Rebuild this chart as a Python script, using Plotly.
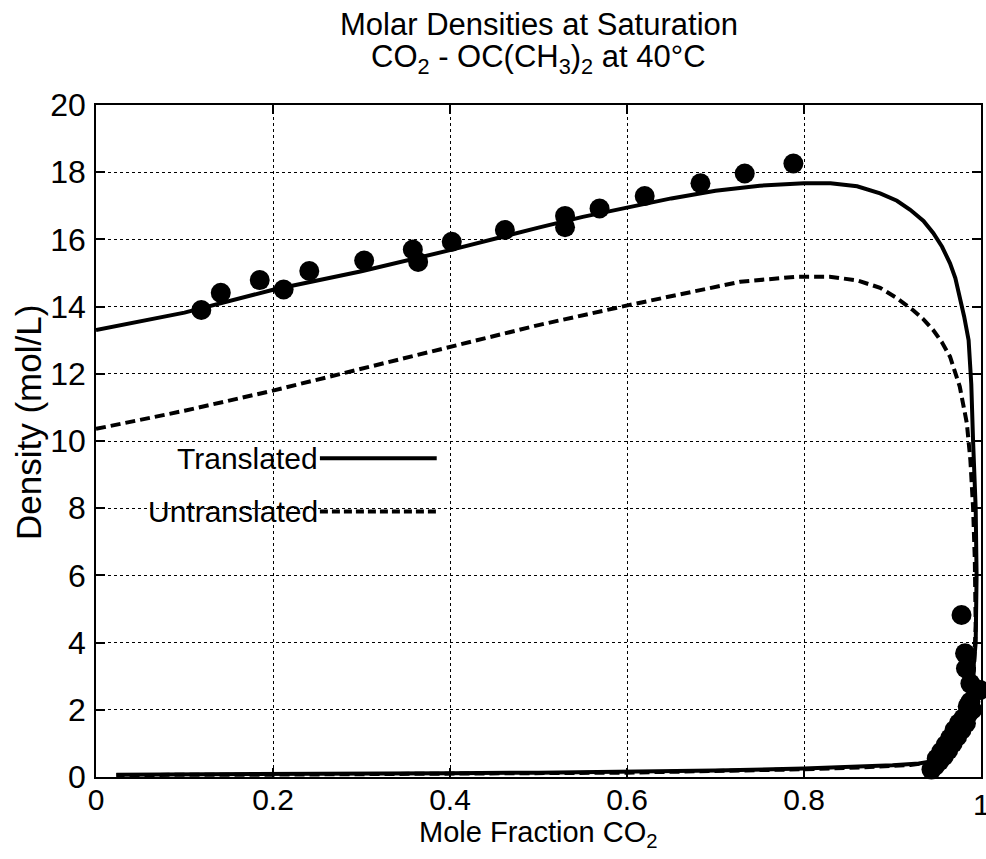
import plotly.graph_objects as go

# ---------------- data ----------------
# Translated model curve: liquid branch (x from 0 to critical) then vapour branch back to low x
trans_x = [0.0, 0.1, 0.2, 0.3, 0.4, 0.45, 0.5, 0.55, 0.6, 0.65, 0.7, 0.75, 0.8, 0.83, 0.86,
           0.886, 0.905, 0.92, 0.935, 0.946, 0.956, 0.965, 0.971, 0.976, 0.981, 0.986,
           0.989, 0.991, 0.994, 0.995, 0.994,
           0.99, 0.985, 0.978, 0.97, 0.96, 0.95, 0.94, 0.93, 0.9, 0.85, 0.8, 0.7, 0.6,
           0.5, 0.4, 0.3, 0.2, 0.1, 0.023]
trans_y = [13.3, 13.82, 14.5, 15.05, 15.68, 16.03, 16.35, 16.67, 16.96, 17.22, 17.45, 17.6,
           17.67, 17.67, 17.58, 17.37, 17.15, 16.88, 16.55, 16.19, 15.78, 15.29, 14.85,
           14.29, 13.7, 13.0, 11.7, 10.03, 8.0, 6.0, 4.0,
           2.8, 2.2, 1.7, 1.3, 0.9, 0.6, 0.45, 0.4, 0.35, 0.29, 0.25, 0.19, 0.15,
           0.13, 0.11, 0.1, 0.09, 0.08, 0.07]

# Untranslated model curve
untr_x = [0.0, 0.1, 0.2, 0.3, 0.4, 0.434, 0.5, 0.603, 0.65, 0.728, 0.792, 0.829, 0.86,
          0.886, 0.905, 0.923, 0.935, 0.946, 0.956, 0.965, 0.976, 0.984, 0.988, 0.991,
          0.993, 0.994, 0.992,
          0.99, 0.98, 0.97, 0.96, 0.95, 0.94, 0.92, 0.85, 0.8, 0.6, 0.4, 0.2, 0.023]
untr_y = [10.36, 10.9, 11.5, 12.15, 12.8, 13.05, 13.45, 14.05, 14.3, 14.74, 14.89, 14.89,
          14.78, 14.56, 14.25, 13.9, 13.62, 13.3, 12.93, 12.51, 11.62, 10.53, 9.43, 8.04,
          6.46, 4.5, 3.2,
          2.5, 1.7, 1.2, 0.85, 0.55, 0.42, 0.36, 0.27, 0.23, 0.13, 0.09, 0.07, 0.06]

# Experimental liquid-phase (bubble) densities
liq_x = [0.119, 0.141, 0.185, 0.212, 0.241, 0.303, 0.358, 0.364, 0.402, 0.462, 0.530,
         0.530, 0.569, 0.620, 0.683, 0.733, 0.788]
liq_y = [13.90, 14.41, 14.79, 14.51, 15.06, 15.37, 15.70, 15.33, 15.93, 16.28, 16.70,
         16.36, 16.92, 17.29, 17.67, 17.96, 18.26]

# Experimental vapour-phase (dew) densities
vap_x = [0.978, 0.982, 0.983, 0.988, 0.999, 0.988, 0.986, 0.983, 0.978, 0.975, 0.973,
         0.970, 0.968, 0.965, 0.963, 0.960, 0.958, 0.955, 0.953, 0.950, 0.948, 0.944,
         0.990, 0.985, 0.980]
vap_y = [4.82, 3.68, 3.23, 2.78, 2.59, 2.24, 1.89, 1.60, 1.40, 1.60, 1.20, 1.40, 1.00,
         1.15, 0.80, 0.95, 0.62, 0.75, 0.47, 0.55, 0.33, 0.22, 2.00, 2.10, 1.75]

# Tick values / labels
x_tickvals = [0, 0.2, 0.4, 0.6, 0.8, 1]
x_ticktext = ["0", "0.2", "0.4", "0.6", "0.8", "1"]
y_tickvals = [0, 2, 4, 6, 8, 10, 12, 14, 16, 18, 20]
y_ticktext = [str(v) for v in y_tickvals]

# In-plot legend samples
leg_labels = ["Translated", "Untranslated"]
leg_x = [0.253, 0.385]
leg_y = [9.49, 7.9]

title_lines = ["Molar Densities at Saturation",
               "CO<sub>2</sub> - OC(CH<sub>3</sub>)<sub>2</sub> at 40°C"]
x_title = "Mole Fraction CO<sub>2</sub>"
y_title = "Density (mol/L)"

FONT = "Liberation Sans, Arial, Helvetica, sans-serif"

fig = go.Figure()

fig.add_trace(go.Scatter(x=untr_x, y=untr_y, mode="lines",
                         line=dict(color="black", width=4, dash="10px,5px"),
                         showlegend=False, hoverinfo="skip"))
fig.add_trace(go.Scatter(x=trans_x, y=trans_y, mode="lines",
                         line=dict(color="black", width=4),
                         showlegend=False, hoverinfo="skip"))
fig.add_trace(go.Scatter(x=liq_x, y=liq_y, mode="markers",
                         marker=dict(color="black", size=20),
                         showlegend=False))
fig.add_trace(go.Scatter(x=vap_x, y=vap_y, mode="markers",
                         marker=dict(color="black", size=20),
                         showlegend=False, cliponaxis=False))

# legend sample lines
fig.add_trace(go.Scatter(x=leg_x, y=[leg_y[0], leg_y[0]], mode="lines",
                         line=dict(color="black", width=4),
                         showlegend=False, hoverinfo="skip"))
fig.add_trace(go.Scatter(x=leg_x, y=[leg_y[1], leg_y[1]], mode="lines",
                         line=dict(color="black", width=4, dash="8px,4px"),
                         showlegend=False, hoverinfo="skip"))

for lab, yy in zip(leg_labels, leg_y):
    fig.add_annotation(x=leg_x[0], y=yy, text=lab, showarrow=False,
                       xanchor="right", yanchor="middle",
                       font=dict(family=FONT, size=30, color="black"))

# last x tick label sits on the page edge (partly cut, as in the original)
fig.add_annotation(x=x_tickvals[-1], y=-0.013, xref="x", yref="paper",
                   text=x_ticktext[-1], showarrow=False, xanchor="center",
                   yanchor="top", font=dict(family=FONT, size=30, color="black"))

# title (two lines) and axis titles as annotations for exact placement
fig.add_annotation(x=0.5, y=1.1205, xref="paper", yref="paper", text=title_lines[0],
                   showarrow=False, xanchor="center", yanchor="middle",
                   font=dict(family=FONT, size=31, color="black"))
fig.add_annotation(x=0.5, y=1.069, xref="paper", yref="paper", text=title_lines[1],
                   showarrow=False, xanchor="center", yanchor="middle",
                   font=dict(family=FONT, size=31, color="black"))
fig.add_annotation(x=0.5, y=-0.085, xref="paper", yref="paper", text=x_title,
                   showarrow=False, xanchor="center", yanchor="middle",
                   font=dict(family=FONT, size=29, color="black"))
fig.add_annotation(x=-0.077, y=0.528, xref="paper", yref="paper", text=y_title,
                   showarrow=False, xanchor="center", yanchor="middle", textangle=-90,
                   font=dict(family=FONT, size=35, color="black"))

axis_common = dict(showgrid=True, gridcolor="black", gridwidth=1, griddash="dot",
                   showline=True, linecolor="black", linewidth=1.5, mirror="ticks",
                   ticks="inside", ticklen=9, tickwidth=1.5, tickcolor="black",
                   zeroline=False)

fig.update_xaxes(range=[0, 1], tickmode="array", tickvals=x_tickvals, ticktext=x_ticktext,
                 ticklabelstandoff=-5,
                 tickfont=dict(family=FONT, size=30, color="black"), **axis_common)
fig.update_yaxes(range=[0, 20], tickmode="array", tickvals=y_tickvals, ticktext=y_ticktext,
                 ticklabelstandoff=2,
                 tickfont=dict(family=FONT, size=32, color="black"), **axis_common)

fig.update_layout(
    width=986, height=859,
    margin=dict(l=96, r=3, t=105, b=82),
    paper_bgcolor="white", plot_bgcolor="white",
    showlegend=False,
)

fig.write_html("out.html")
